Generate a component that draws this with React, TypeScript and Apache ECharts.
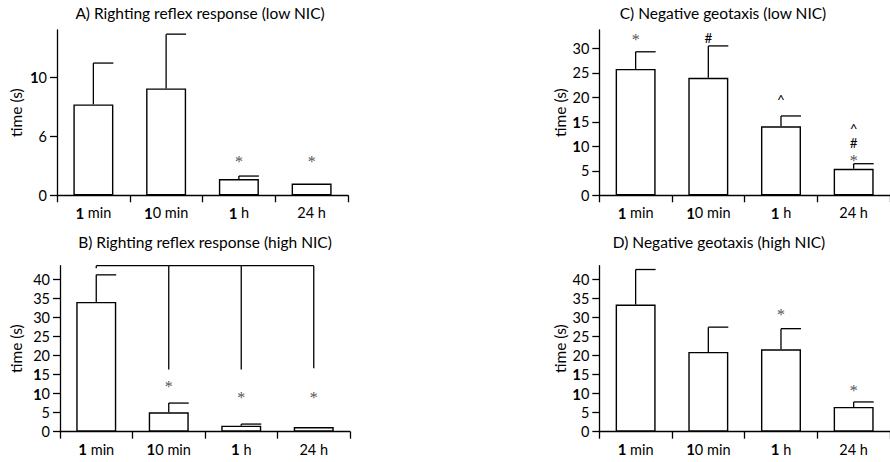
import React, { useEffect, useRef } from 'react';
import * as echarts from 'echarts';

const categories = ['1 min', '10 min', '1 h', '24 h'];

const titles = [
  'A) Righting reflex response (low NIC)',
  'B) Righting reflex response (high NIC)',
  'C) Negative geotaxis (low NIC)',
  'D) Negative geotaxis (high NIC)',
];

// Panel A
const meanA = [7.7, 9.05, 1.37, 1.0];
const errA: (number | null)[] = [11.2, 13.65, 1.63, null];
const tickValuesA = [0, 5, 10];
const tickLabelsA = ['0', '6', '10'];
const annotA: [number, number, string][] = [
  [2, 3.1, '*'],
  [3, 3.1, '*'],
];

// Panel B
const meanB = [34.0, 5.07, 1.57, 1.23];
const errB: (number | null)[] = [41.1, 7.5, 2.0, null];
const tickValuesB = [0, 5, 10, 15, 20, 25, 30, 35, 40];
const annotB: [number, number, string][] = [
  [1, 12.6, '*'],
  [2, 9.7, '*'],
  [3, 9.7, '*'],
];
const bracketTopB = 43.5;
const bracketDropB = [42.8, 16.3, 16.3, 16.6];

// Panel C
const meanC = [25.8, 24.0, 14.1, 5.4];
const errC: (number | null)[] = [29.3, 30.5, 16.2, 6.45];
const tickValuesC = [0, 5, 10, 15, 20, 25, 30];
const annotC: [number, number, string][] = [
  [0, 32.5, '*'],
  [1, 32.2, '#'],
  [2, 19.4, '^'],
  [3, 13.6, '^'],
  [3, 10.6, '#'],
  [3, 7.7, '*'],
];

// Panel D
const meanD = [33.3, 20.9, 21.6, 6.5];
const errD: (number | null)[] = [42.5, 27.4, 27.0, 7.8];
const tickValuesD = [0, 5, 10, 15, 20, 25, 30, 35, 40];
const annotD: [number, number, string][] = [
  [2, 31.4, '*'],
  [3, 11.6, '*'],
];

const FONT = 'Lato, "Open Sans", sans-serif';

function richDigits(s: string): string {
  // "1" glyphs appear bold in the reference
  let out = '';
  let buf = '';
  for (const ch of s) {
    if (ch === '1') {
      if (buf) { out += `{n|${buf}}`; buf = ''; }
      out += '{b|1}';
    } else {
      buf += ch;
    }
  }
  if (buf) out += `{n|${buf}}`;
  return out;
}

const richStyle = {
  b: { fontFamily: FONT, fontSize: 15, fontWeight: 'bold', color: '#000' },
  n: { fontFamily: FONT, fontSize: 14.5, color: '#000' },
};

export default function App() {
  const ref = useRef<HTMLDivElement>(null);
  useEffect(() => {
    if (!ref.current) return;
    const chart = echarts.init(ref.current, null, { renderer: 'svg' });

    const grids = [
      { left: 57, top: 30, width: 291, height: 165.3 },
      { left: 60, top: 265.7, width: 290, height: 166 },
      { left: 599.3, top: 30, width: 290.7, height: 165.3 },
      { left: 599.3, top: 265.7, width: 290.7, height: 166 },
    ];
    const yMax = [14, 43.5, 33.75, 43.5];
    const ticks = [tickValuesA, tickValuesB, tickValuesC, tickValuesD];
    const nameGaps = [33, 36, 31, 31];
    const means = [meanA, meanB, meanC, meanD];
    const errs = [errA, errB, errC, errD];
    const annots = [annotA, annotB, annotC, annotD];
    const titleX = [200, 205, 723, 719];
    const titleY = [14, 243, 14, 243];

    const lineStyle = { color: '#000', width: 1.3 };

    const xAxis = grids.map((_, i) => ({
      type: 'category',
      gridIndex: i,
      data: categories,
      axisLine: { lineStyle },
      axisTick: { show: true, length: 7, lineStyle },
      axisLabel: {
        interval: 0,
        margin: 10,
        formatter: (v: string) => {
          const [num, unit] = v.split(' ');
          return richDigits(num) + '{n| ' + unit + '}';
        },
        rich: richStyle,
      },
    }));

    const yAxis = grids.map((_, i) => ({
      type: 'value',
      gridIndex: i,
      min: 0,
      max: yMax[i],
      name: 'time (s)',
      nameLocation: 'middle',
      nameRotate: 90,
      nameGap: nameGaps[i],
      nameTextStyle: { fontFamily: FONT, fontSize: 15.5, color: '#000' },
      splitLine: { show: false },
      axisLine: { show: true, lineStyle },
      axisTick: { show: true, length: 7, lineStyle, customValues: ticks[i] },
      axisLabel: {
        margin: 10,
        customValues: ticks[i],
        formatter: (v: number) => {
          let s = String(v);
          if (i === 0) {
            const idx = tickValuesA.indexOf(v);
            s = idx >= 0 ? tickLabelsA[idx] : '';
          }
          return richDigits(s);
        },
        rich: richStyle,
      },
    }));

    const series: any[] = [];
    grids.forEach((_, i) => {
      series.push({
        type: 'bar',
        xAxisIndex: i,
        yAxisIndex: i,
        data: means[i],
        barWidth: 40,
        itemStyle: { color: '#fff', borderColor: '#000', borderWidth: 1.4 },
      });
      const errData = means[i]
        .map((m, k) => [k, m, errs[i][k]])
        .filter((d) => d[2] != null);
      series.push({
        type: 'custom',
        xAxisIndex: i,
        yAxisIndex: i,
        data: errData,
        renderItem: (params: any, api: any) => {
          const c = api.value(0);
          const p0 = api.coord([c, api.value(1)]);
          const p1 = api.coord([c, api.value(2)]);
          return {
            type: 'group',
            children: [
              { type: 'line', shape: { x1: p0[0], y1: p0[1], x2: p1[0], y2: p1[1] }, style: { stroke: '#000', lineWidth: 1.3 } },
              { type: 'line', shape: { x1: p1[0], y1: p1[1], x2: p1[0] + 20, y2: p1[1] }, style: { stroke: '#000', lineWidth: 1.3 } },
            ],
          };
        },
        z: 3,
      });
      const an = annots[i];
      series.push({
        type: 'custom',
        xAxisIndex: i,
        yAxisIndex: i,
        data: an.map((a) => [a[0], a[1]]),
        renderItem: (params: any, api: any) => {
          const p = api.coord([api.value(0), api.value(1)]);
          const t = an[params.dataIndex][2];
          const star = t === '*';
          return {
            type: 'text',
            x: p[0],
            y: p[1] + (star ? 3 : 0),
            style: {
              text: t,
              textAlign: 'center',
              textVerticalAlign: 'middle',
              fontFamily: star ? '"Liberation Serif", serif' : FONT,
              fontSize: star ? 16 : 13.5,
              lineHeight: star ? 10 : 12,
              fill: star ? '#555' : '#000',
            },
          };
        },
        z: 4,
      });
    });

    // bracket in panel B
    series.push({
      type: 'custom',
      xAxisIndex: 1,
      yAxisIndex: 1,
      data: bracketDropB.map((d, k) => [k, d]),
      renderItem: (params: any, api: any) => {
        const k = api.value(0);
        const top = api.coord([k, bracketTopB]);
        const bot = api.coord([k, api.value(1)]);
        const children: any[] = [
          { type: 'line', shape: { x1: top[0], y1: top[1], x2: bot[0], y2: bot[1] }, style: { stroke: '#000', lineWidth: 1.3 } },
        ];
        if (k < bracketDropB.length - 1) {
          const next = api.coord([k + 1, bracketTopB]);
          children.push({ type: 'line', shape: { x1: top[0], y1: top[1], x2: next[0], y2: next[1] }, style: { stroke: '#000', lineWidth: 1.3 } });
        }
        return { type: 'group', children };
      },
      z: 4,
    });

    chart.setOption({
      animation: false,
      backgroundColor: '#fff',
      title: titles.map((t, i) => ({
        text: t,
        left: titleX[i],
        top: titleY[i] - 9,
        textAlign: 'center',
        padding: 0,
        textStyle: { fontFamily: FONT, fontSize: 15.5, fontWeight: 'normal', color: '#000' },
      })),
      grid: grids,
      xAxis,
      yAxis,
      series,
    });
    return () => chart.dispose();
  }, []);
  return <div ref={ref} style={{ width: 890, height: 462, position: 'absolute', left: 0, top: 0 }} />;
}
